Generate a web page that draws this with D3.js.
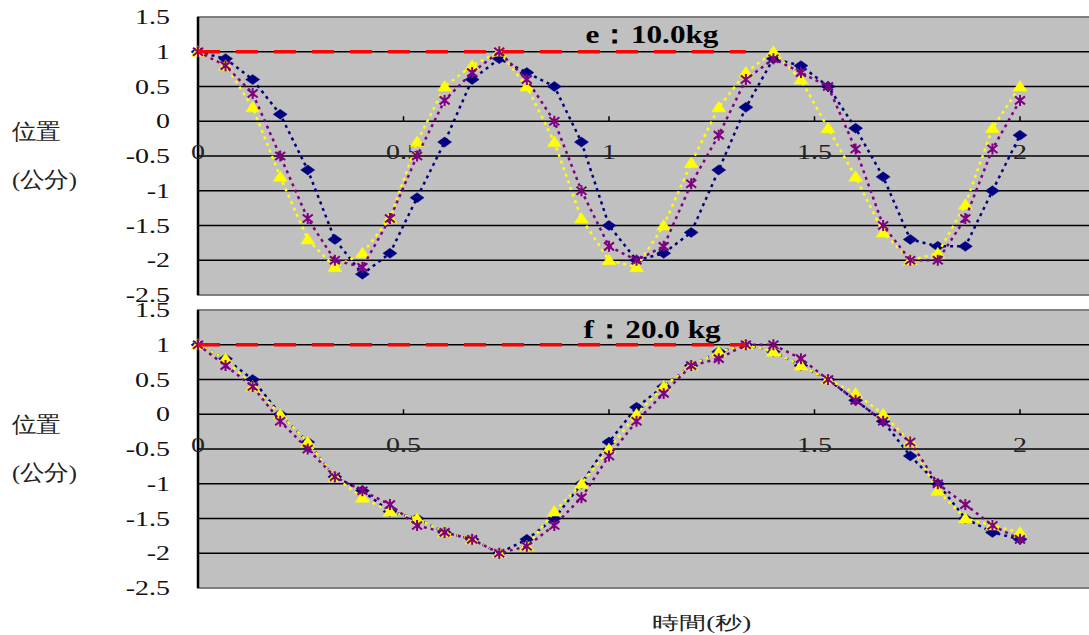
<!DOCTYPE html>
<html>
<head>
<meta charset="utf-8">
<script src="https://cdn.jsdelivr.net/npm/d3@7/dist/d3.min.js"></script>
<style>
body { margin: 0; background: #fff; }
svg text { font-family: "Liberation Serif", "Times New Roman", serif; }
</style>
</head>
<body>
<div class="content"></div>
<script>
// sample times (s), shared by every series
var times = [0, 0.067, 0.133, 0.2, 0.267, 0.333, 0.4, 0.467, 0.533, 0.6, 0.667, 0.733, 0.8, 0.867, 0.933, 1.0,
    1.067, 1.133, 1.2, 1.267, 1.333, 1.4, 1.467, 1.533, 1.6, 1.667, 1.733, 1.8, 1.867, 1.933, 2.0];

// e: 10.0kg
var eBlue   = [1, 0.9, 0.6, 0.1, -0.7, -1.7, -2.2, -1.9, -1.1, -0.3, 0.6, 0.9, 0.7, 0.5, -0.3, -1.5, -2.0, -1.9, -1.6, -0.7, 0.2, 0.9, 0.8, 0.5, -0.1, -0.8, -1.7, -1.8, -1.8, -1.0, -0.2];
var ePurple = [1, 0.8, 0.4, -0.5, -1.4, -2.0, -2.1, -1.4, -0.5, 0.3, 0.7, 1.0, 0.6, 0.0, -1.0, -1.8, -2.0, -1.8, -0.9, -0.2, 0.6, 0.9, 0.7, 0.5, -0.4, -1.5, -2.0, -2.0, -1.4, -0.4, 0.3];
var eYellow = [1, 0.8, 0.2, -0.8, -1.7, -2.1, -1.9, -1.4, -0.3, 0.5, 0.8, 1.0, 0.5, -0.3, -1.4, -2.0, -2.1, -1.5, -0.6, 0.2, 0.7, 1.0, 0.6, -0.1, -0.8, -1.6, -2.0, -1.9, -1.2, -0.1, 0.5];

// f: 20.0 kg
var fBlue   = [1, 0.8, 0.5, 0, -0.4, -0.9, -1.1, -1.4, -1.5, -1.7, -1.8, -2.0, -1.8, -1.5, -1.0, -0.4, 0.1, 0.4, 0.7, 0.9, 1.0, 0.9, 0.7, 0.5, 0.2, -0.1, -0.6, -1.0, -1.5, -1.7, -1.8];
var fPurple = [1, 0.7, 0.4, -0.1, -0.5, -0.9, -1.1, -1.3, -1.6, -1.7, -1.8, -2.0, -1.9, -1.6, -1.2, -0.6, -0.1, 0.3, 0.7, 0.8, 1.0, 1.0, 0.8, 0.5, 0.2, -0.1, -0.4, -1.0, -1.3, -1.6, -1.8];
var fYellow = [1, 0.8, 0.4, 0, -0.4, -0.9, -1.2, -1.4, -1.5, -1.7, -1.8, -2.0, -1.9, -1.4, -1.0, -0.5, 0, 0.4, 0.7, 0.9, 1.0, 0.9, 0.7, 0.5, 0.3, 0, -0.4, -1.1, -1.5, -1.6, -1.7];

// red reference line at the release position
var refLine = [1, 1, 1, 1, 1, 1, 1, 1, 1, 1, 1, 1, 1, 1, 1, 1, 1, 1, 1, 1, 1];

var yTicks = [1.5, 1, 0.5, 0, -0.5, -1, -1.5, -2, -2.5];
var xTicks = [0, 0.5, 1, 1.5, 2];
var titles = ['e：10.0kg', 'f：20.0 kg'];
var yLabel = ['位置', '(公分)'];
var xLabel = '時間(秒)';

var chart = {
    width: 1089,
    height: 635,
    left: 198,
    xEnd: 1020,
    panelTop: [17, 310],
    panelHeight: 278,
    bg: '#c0c0c0',
    stretch: 1.4   // the original text is drawn wide
};

var markers = {
    diamond: 'M0,-5L7,0L0,5L-7,0Z',
    triangle: 'M0,-6L7,4.5L-7,4.5Z',
    star: 'M-5,-4L5,4M-5,4L5,-4M0,-5.5L0,5.5'
};

var svg = d3.select('.content').append('svg')
    .attr('width', chart.width)
    .attr('height', chart.height);

var x = d3.scaleLinear().domain([0, 2]).range([chart.left, chart.xEnd]);

function wideText(parent, px, py, sx) {
    return parent.append('g')
        .attr('transform', 'translate(' + px + ',' + py + ') scale(' + sx + ',1)')
        .append('text');
}

function drawPanel(idx, blue, purple, yellow) {
    var top = chart.panelTop[idx];
    var y = d3.scaleLinear().domain([-2.5, 1.5]).range([top + chart.panelHeight, top]);
    var g = svg.append('g');

    g.append('rect')
        .attr('x', chart.left).attr('y', top)
        .attr('width', chart.width - chart.left + 5).attr('height', chart.panelHeight)
        .attr('fill', chart.bg).attr('stroke', '#808080').attr('stroke-width', 2);

    // horizontal grid lines
    g.selectAll('.grid').data(yTicks.filter(function(d) { return d > -2.5 && d < 1.5; }))
        .enter().append('line')
        .attr('x1', chart.left).attr('x2', chart.width)
        .attr('y1', function(d) { return y(d); }).attr('y2', function(d) { return y(d); })
        .attr('stroke', '#000').attr('stroke-width', 1.3);

    // value axis
    g.append('line')
        .attr('x1', chart.left).attr('x2', chart.left)
        .attr('y1', top).attr('y2', top + chart.panelHeight)
        .attr('stroke', '#000').attr('stroke-width', 2.5);

    yTicks.forEach(function(d) {
        wideText(g, 170, y(d) + 7, chart.stretch)
            .attr('text-anchor', 'end')
            .attr('font-size', 20)
            .attr('fill', '#111')
            .text(String(d));
    });

    // time axis sits on zero
    g.selectAll('.xtick').data(xTicks.slice(1)).enter().append('line')
        .attr('x1', function(d) { return x(d); }).attr('x2', function(d) { return x(d); })
        .attr('y1', y(0) - 5).attr('y2', y(0))
        .attr('stroke', '#000').attr('stroke-width', 1.5);
    xTicks.forEach(function(d) {
        wideText(g, x(d), y(0) + 38, chart.stretch)
            .attr('text-anchor', 'middle')
            .attr('font-size', 20)
            .attr('fill', '#222')
            .text(String(d));
    });

    wideText(g, 652, top + 26 + idx * 2, 1.2)
        .attr('text-anchor', 'middle')
        .attr('font-size', 26).attr('font-weight', 'bold')
        .text(titles[idx]);

    yLabel.forEach(function(d, i) {
        wideText(g, 12, top + 122 + i * 48, 1.12)
            .attr('font-family', '"Noto Sans CJK TC", sans-serif')
            .attr('font-size', 22).attr('font-weight', 300)
            .attr('fill', '#222')
            .text(d);
    });

    var series = [
        {values: blue, color: '#000080', marker: markers.diamond, fill: true},
        {values: yellow, color: '#ffff00', marker: markers.triangle, fill: true},
        {values: purple, color: '#800080', marker: markers.star, fill: false}
    ];

    var line = d3.line()
        .x(function(d) { return x(d.t); })
        .y(function(d) { return y(d.v); });

    series.forEach(function(s) {
        var pts = s.values.map(function(v, i) { return {t: times[i], v: v}; });
        var sg = g.append('g');
        sg.append('path')
            .attr('d', line(pts))
            .attr('fill', 'none')
            .attr('stroke', s.color)
            .attr('stroke-width', 2.5)
            .attr('stroke-dasharray', '3,4');
        sg.selectAll('path.m').data(pts).enter().append('path')
            .attr('class', 'm')
            .attr('transform', function(d) { return 'translate(' + x(d.t) + ',' + y(d.v) + ')'; })
            .attr('d', s.marker)
            .attr('fill', s.fill ? s.color : 'none')
            .attr('stroke', s.color)
            .attr('stroke-width', s.fill ? 0.5 : 2);
    });

    var ref = refLine.map(function(v, i) { return {t: times[i], v: v}; });
    g.append('path')
        .attr('d', line(ref))
        .attr('fill', 'none')
        .attr('stroke', '#ff0000')
        .attr('stroke-width', 3.5)
        .attr('stroke-dasharray', '22,16');
}

drawPanel(0, eBlue, ePurple, eYellow);
drawPanel(1, fBlue, fPurple, fYellow);

wideText(svg, 652, 629, 1.5)
    .attr('font-family', '"Noto Sans CJK TC", sans-serif')
    .attr('font-size', 18).attr('font-weight', 300)
    .attr('fill', '#222')
    .text(xLabel);
</script>
</body>
</html>
